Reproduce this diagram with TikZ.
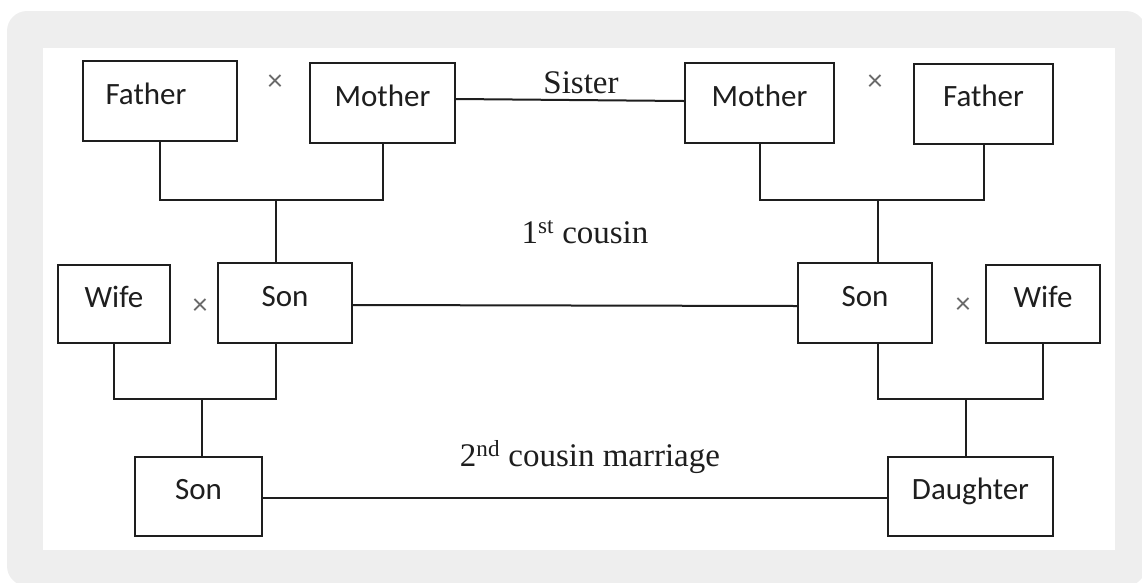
\documentclass[tikz,border=0pt]{standalone}
\usepackage{fontspec}
\setmainfont{Liberation Serif}
\newfontfamily\boxfont{Carlito}
\definecolor{bggray}{HTML}{EEEEEE}
\definecolor{ink}{HTML}{1E1E1E}
\definecolor{crossgray}{HTML}{6A6A6A}
\begin{document}
\begin{tikzpicture}[x=1pt,y=-1pt,
  box/.style={draw=ink, line width=2pt, rectangle, inner sep=0pt, text=ink,
    font=\boxfont\fontsize{31}{36}\selectfont, text height=22pt, text depth=16pt,
    minimum height=80pt},
  conn/.style={draw=ink, line width=2pt},
  cross/.style={text=crossgray, font=\boxfont\fontsize{30}{36}\selectfont, inner sep=0pt},
  lbl/.style={text=ink, font=\fontsize{33}{40}\selectfont, anchor=base, inner sep=0pt}]
\useasboundingbox (0,0) rectangle (1142,582);
\fill[bggray, rounded corners=20pt] (7,11) rectangle (1146,586);
\fill[white] (43,48) rectangle (1115,550);

% generation 1
\node[box, minimum width=154pt] (fl) at (160,101) {\hspace*{-28pt}Father};
\node[box, minimum width=145pt] (ml) at (382.5,103) {Mother};
\node[box, minimum width=149pt] (mr) at (759.5,103) {Mother};
\node[box, minimum width=139pt] (fr) at (983.5,103.5) {Father};
\node[cross] (x1) at (275,83) {×};
\node[cross] (x2) at (875,83) {×};
\node[lbl] (sister) at (581,93) {Sister};

% generation 2
\node[box, minimum width=112pt, minimum height=78pt] (wl) at (114,304) {Wife};
\node[box, minimum width=134pt] (sl) at (285,303) {Son};
\node[box, minimum width=134pt] (sr) at (865,303) {Son};
\node[box, minimum width=114pt, minimum height=78pt] (wr) at (1043,304) {Wife};
\node[cross] (x3) at (200,307) {×};
\node[cross] (x4) at (963,306) {×};
\node[lbl] (first) at (585,243) {1\textsuperscript{st} cousin};

% generation 3
\node[box, minimum width=127pt, minimum height=79pt] (sb) at (198.5,496.5) {Son};
\node[box, minimum width=165pt, minimum height=79pt] (db) at (970.5,496.5) {Daughter};
\node[lbl] (second) at (590,466) {2\textsuperscript{nd} cousin marriage};

% junctions
\coordinate (jl) at (276,200);
\coordinate (jr) at (878,200);
\coordinate (kl) at (202,399);
\coordinate (kr) at (966,399);

% connectors
\draw[conn] ([yshift=4pt]ml.east) -- ([yshift=2pt]mr.west);
\draw[conn] (fl.south) |- (jl) -| (ml.south);
\draw[conn] (jl) -- (jl |- sl.north);
\draw[conn] (mr.south) |- (jr) -| (fr.south);
\draw[conn] (jr) -- (jr |- sr.north);
\draw[conn] ([yshift=-2pt]sl.east) -- ([yshift=-3pt]sr.west);
\draw[conn] (wl.south) |- (kl) -| (jl |- sl.south);
\draw[conn] (kl) -- (kl |- sb.north);
\draw[conn] (jr |- sr.south) |- (kr) -| (wr.south);
\draw[conn] (kr) -- (kr |- db.north);
\draw[conn] ([yshift=-1.5pt]sb.east) -- ([yshift=-1.5pt]db.west);
\end{tikzpicture}
\end{document}
